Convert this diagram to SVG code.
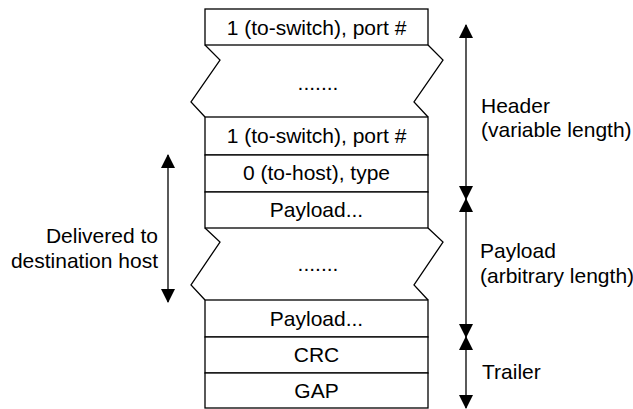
<svg xmlns="http://www.w3.org/2000/svg" width="633" height="409" viewBox="0 0 633 409">
<style>
.box{fill:#fff;stroke:#000;stroke-width:1.3}
.zig{fill:none;stroke:#000;stroke-width:1.3;stroke-linejoin:miter}
.t{font-family:"Liberation Sans",Arial,sans-serif;font-size:21px;fill:#000}
.c{text-anchor:middle}
.r{text-anchor:end}
.arr{stroke:#000;stroke-width:1.3;fill:none;marker-start:url(#ah);marker-end:url(#ah)}
</style>
<defs>
<marker id="ah" viewBox="0 0 14 14" refX="13" refY="7" markerWidth="14" markerHeight="14" markerUnits="userSpaceOnUse" orient="auto-start-reverse">
<path d="M0,0 L14,7 L0,14 Z" fill="#000"/>
</marker>
</defs>
<rect width="633" height="409" fill="#fff"/>
<g id="row-switch-top">
<rect class="box" x="205" y="9" width="223" height="36"/>
<text class="t c" x="316.5" y="35">1 (to-switch), port #</text>
</g>
<g id="gap-header">
<path class="zig" d="M205,45 L220,60 L191,102 L205,117"/>
<path class="zig" d="M428,45 L443,60 L414,102 L428,117"/>
<text class="t c" x="318" y="90">.......</text>
</g>
<g id="row-switch">
<rect class="box" x="205" y="117" width="223" height="38"/>
<text class="t c" x="316.5" y="143">1 (to-switch), port #</text>
</g>
<g id="row-host">
<rect class="box" x="205" y="155" width="223" height="37"/>
<text class="t c" x="316.5" y="180">0 (to-host), type</text>
</g>
<g id="row-payload-top">
<rect class="box" x="205" y="192" width="223" height="36"/>
<text class="t c" x="316.5" y="217">Payload...</text>
</g>
<g id="gap-payload">
<path class="zig" d="M205,228 L220,242 L191,285 L205,300"/>
<path class="zig" d="M428,228 L443,242 L414,285 L428,300"/>
<text class="t c" x="318" y="271">.......</text>
</g>
<g id="row-payload-bottom">
<rect class="box" x="205" y="300" width="223" height="37"/>
<text class="t c" x="316.5" y="326">Payload...</text>
</g>
<g id="row-crc">
<rect class="box" x="205" y="337" width="223" height="36"/>
<text class="t c" x="316.5" y="362">CRC</text>
</g>
<g id="row-gap">
<rect class="box" x="205" y="373" width="223" height="35"/>
<text class="t c" x="316.5" y="398">GAP</text>
</g>
<g id="connectors">
<line class="arr" x1="466" y1="25" x2="466" y2="199"/>
<line class="arr" x1="466" y1="199" x2="466" y2="337"/>
<line class="arr" x1="466" y1="337" x2="466" y2="408"/>
<line class="arr" x1="168" y1="155" x2="168" y2="302"/>
</g>
<g id="labels">
<text class="t" x="481" y="113">Header</text>
<text class="t" x="481" y="137">(variable length)</text>
<text class="t" x="480" y="258">Payload</text>
<text class="t" x="480" y="283">(arbitrary length)</text>
<text class="t" x="482" y="379">Trailer</text>
<text class="t r" x="158" y="243">Delivered to</text>
<text class="t r" x="158" y="268">destination host</text>
</g>
</svg>
